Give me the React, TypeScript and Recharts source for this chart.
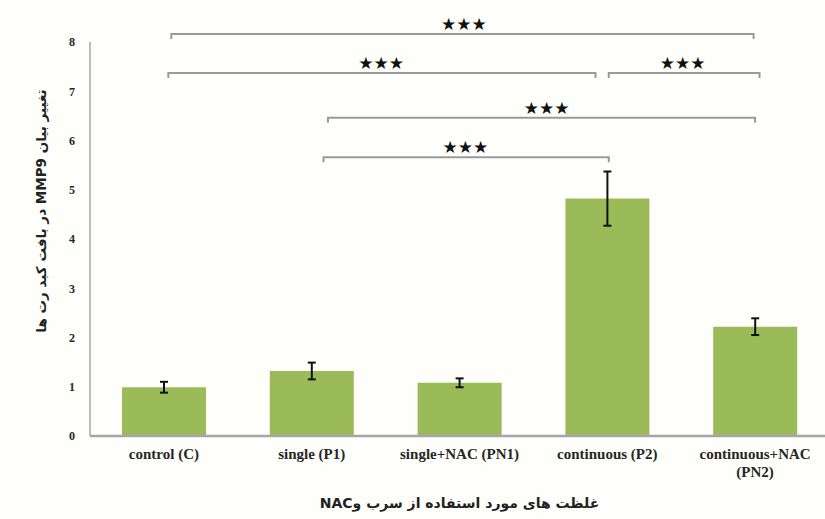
import React from "react";
import {
  BarChart,
  Bar,
  XAxis,
  YAxis,
  ErrorBar,
  ReferenceLine,
  ReferenceDot,
} from "recharts";

// group labels (multi-line where the original wraps)
const categories = [
  ["control (C)"],
  ["single (P1)"],
  ["single+NAC (PN1)"],
  ["continuous (P2)"],
  ["continuous+NAC", "(PN2)"],
];
const meanValues = [0.99, 1.32, 1.08, 4.82, 2.22];
const errValues = [0.11, 0.17, 0.09, 0.55, 0.17];
const yTicks = [0, 1, 2, 3, 4, 5, 6, 7, 8];

// significance brackets: start / end (category position), height, star position
const bracketFrom = [0.05, 0.03, 3.01, 1.11, 1.08];
const bracketTo = [3.99, 2.92, 4.03, 4.0, 3.01];
const bracketLevel = [8.16, 7.37, 7.37, 6.46, 5.66];
const starAt = [2.03, 1.47, 3.51, 2.59, 2.04];

const yTitle = "تغییر بیان MMP9 در بافت کبد رت ها";
const xTitle = "غلظت های مورد استفاده از سرب وNAC";

const data = categories.map((c, i) => ({
  pos: i,
  value: meanValues[i],
  err: errValues[i],
}));

const BAR_COLOR = "#9bbb59";
const LINE_GRAY = "#9a9a9a";

function CategoryTick(props: any) {
  const { x, y, payload } = props;
  const lines = categories[payload.value] || [];
  return (
    <g transform={`translate(${x},${y})`}>
      {lines.map((l, i) => (
        <text
          key={i}
          x={0}
          y={21 + i * 18}
          textAnchor="middle"
          fontFamily="'Liberation Serif', serif"
          fontWeight="bold"
          fontSize={15}
          fill="#262626"
        >
          {l}
        </text>
      ))}
    </g>
  );
}

function Bracket(props: any) {
  const { x1, y1, x2, y2 } = props;
  return (
    <path
      d={`M${x1},${y1 + 5}V${y1}H${x2}V${y2 + 5}`}
      fill="none"
      stroke={LINE_GRAY}
      strokeWidth={2}
    />
  );
}

function Stars(props: any) {
  const { cx, cy } = props;
  return (
    <text
      x={cx}
      y={cy - 4}
      textAnchor="middle"
      fontFamily="'DejaVu Sans', sans-serif"
      fontSize={17}
      fill="#111"
    >
      ★★★
    </text>
  );
}

export default function App() {
  return (
    <div
      style={{
        position: "absolute",
        left: 0,
        top: 0,
        width: 825,
        height: 519,
        background: "#fefefb",
        overflow: "hidden",
      }}
    >
      <BarChart
        width={825}
        height={519}
        data={data}
        margin={{ top: 42, right: -4, bottom: 0, left: 60 }}
      >
        <XAxis
          type="number"
          dataKey="pos"
          domain={[-0.5, 4.5]}
          ticks={[0, 1, 2, 3, 4]}
          allowDataOverflow
          tick={<CategoryTick />}
          tickLine={false}
          tickSize={0}
          axisLine={{ stroke: "#a6a6a6", strokeWidth: 2.5 }}
          height={83}
          label={(p: any) => (
            <text
              x={p.viewBox.x + p.viewBox.width / 2}
              y={p.viewBox.y + 72}
              textAnchor="middle"
              direction="rtl"
              fontFamily="'DejaVu Sans', sans-serif"
              fontWeight="bold"
              fontSize={14}
              fill="#222"
            >
              {xTitle}
            </text>
          )}
        />
        <YAxis
          domain={[0, 8]}
          ticks={yTicks}
          width={30}
          tickLine={false}
          tickSize={0}
          tickMargin={15}
          axisLine={{ stroke: "#a6a6a6", strokeWidth: 1.5 }}
          tick={{
            fontFamily: "'Liberation Serif', serif",
            fontWeight: "bold",
            fontSize: 12,
            fill: "#262626",
          }}
          label={() => (
            <text
              x={42}
              y={211}
              transform="rotate(-90 42 211)"
              textAnchor="middle"
              dominantBaseline="middle"
              direction="rtl"
              fontFamily="'DejaVu Sans', sans-serif"
              fontWeight="bold"
              fontSize={13.5}
              fill="#222"
            >
              {yTitle}
            </text>
          )}
        />
        <Bar dataKey="value" fill={BAR_COLOR} barSize={84} isAnimationActive={false}>
          <ErrorBar
            dataKey="err"
            width={4}
            stroke="#111"
            strokeWidth={2}
            isAnimationActive={false}
          />
        </Bar>
        {bracketFrom.map((f, i) => (
          <ReferenceLine
            key={`b${i}`}
            segment={[
              { x: f, y: bracketLevel[i] },
              { x: bracketTo[i], y: bracketLevel[i] },
            ]}
            ifOverflow="visible"
            shape={<Bracket />}
          />
        ))}
        {starAt.map((s, i) => (
          <ReferenceDot
            key={`s${i}`}
            x={s}
            y={bracketLevel[i]}
            ifOverflow="visible"
            shape={<Stars />}
          />
        ))}
      </BarChart>
    </div>
  );
}
